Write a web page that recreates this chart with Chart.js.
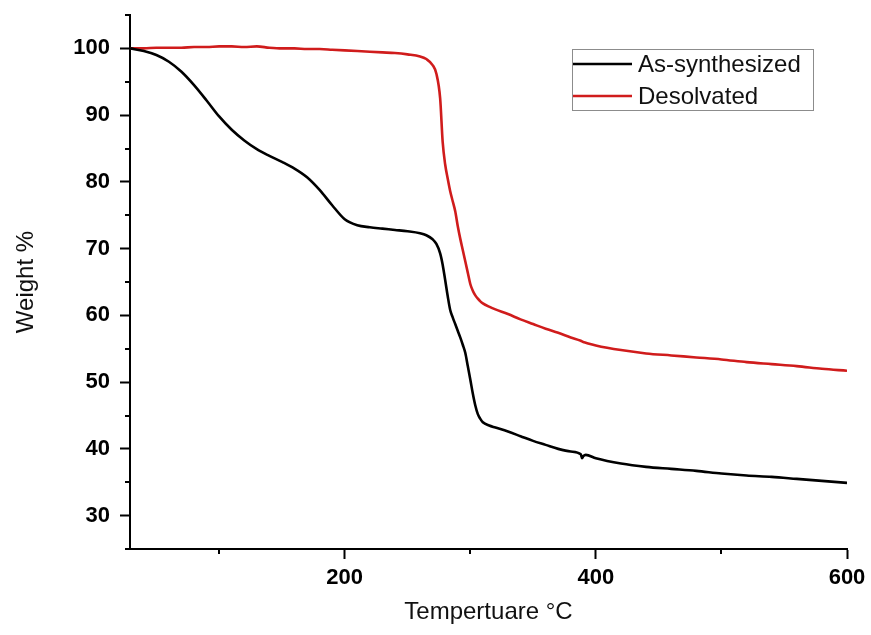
<!DOCTYPE html>
<html>
<head>
<meta charset="utf-8">
<title>TGA</title>
<script src="https://cdn.jsdelivr.net/npm/chart.js@4.4.1/dist/chart.umd.min.js"></script>
<style>
  html, body { margin: 0; padding: 0; background: #fff; }
</style>
</head>
<body>
<canvas id="tga" width="871" height="635"></canvas>
<script>
// temperature grid (°C) shared by both curves
const temps = [29, 40, 50, 60, 70, 80, 90, 100, 110, 120, 130, 140, 150, 160, 170, 180, 190, 200,
  210, 220, 230, 240, 250, 260, 265, 270, 273, 276, 278, 280, 282, 284, 286, 288, 290, 292, 294,
  296, 298, 300, 302, 304, 306, 308, 310, 315, 320, 330, 340, 350, 360, 370, 380, 388, 389, 390,
  392, 400, 420, 440, 460, 480, 500, 520, 540, 560, 580, 600];

// weight % of the as-synthesized sample
const asSynthesized = [100.0, 99.6, 99.0, 98.0, 96.5, 94.5, 92.2, 89.8, 87.8, 86.2, 84.9, 83.9, 83.0,
  82.0, 80.7, 78.8, 76.5, 74.4, 73.5, 73.2, 73.0, 72.8, 72.6, 72.3, 72.0, 71.4, 70.7, 69.3, 67.6,
  65.3, 62.9, 60.8, 59.7, 58.7, 57.7, 56.7, 55.6, 54.4, 52.4, 50.4, 48.3, 46.5, 45.2, 44.5, 44.0,
  43.5, 43.2, 42.6, 41.9, 41.2, 40.6, 40.0, 39.6, 39.2, 38.6, 38.9, 39.1, 38.6, 37.8, 37.3, 37.0,
  36.7, 36.3, 36.0, 35.8, 35.5, 35.2, 34.9];

// weight % of the desolvated sample
const desolvated = [100.0, 100.0, 100.1, 100.1, 100.1, 100.2, 100.2, 100.3, 100.3, 100.2, 100.3,
  100.1, 100.0, 100.0, 99.9, 99.9, 99.8, 99.7, 99.6, 99.5, 99.4, 99.3, 99.1, 98.8, 98.4, 97.5, 96.2,
  92.5, 86.0, 82.6, 80.5, 78.6, 77.1, 75.6, 73.4, 71.5, 69.8, 68.1, 66.4, 64.7, 63.7, 63.0, 62.5,
  62.1, 61.8, 61.3, 60.9, 60.2, 59.4, 58.7, 58.0, 57.4, 56.7, 56.2, 56.1, 56.0, 55.9, 55.5, 54.8,
  54.3, 54.0, 53.7, 53.4, 53.0, 52.7, 52.4, 52.0, 51.7];

const seriesNames = ['As-synthesized', 'Desolvated'];

// labelled ticks and the short unlabelled ones between them
const xTicks = [200, 400, 600];
const xMinorTicks = [100, 300, 500];
const yTicks = [30, 40, 50, 60, 70, 80, 90, 100];
const yMinorTicks = [25, 35, 45, 55, 65, 75, 85, 95, 105];

const FONT = '"Liberation Sans", Arial, sans-serif';
const RED = '#d01c1c';

function toPoints(ys) {
  return temps.map((t, i) => ({ x: t, y: ys[i] }));
}

// short minor ticks on both axes
const minorTicks = {
  id: 'minorTicks',
  afterDraw(chart) {
    const { ctx, scales: { x, y } } = chart;
    ctx.save();
    ctx.strokeStyle = '#000';
    ctx.lineWidth = 2;
    ctx.beginPath();
    yMinorTicks.forEach((v) => {
      const py = Math.round(y.getPixelForValue(v));
      ctx.moveTo(x.left - 5, py);
      ctx.lineTo(x.left, py);
    });
    xMinorTicks.forEach((v) => {
      const px = Math.round(x.getPixelForValue(v));
      ctx.moveTo(px, y.bottom);
      ctx.lineTo(px, y.bottom + 5);
    });
    ctx.stroke();
    ctx.restore();
  },
};

// boxed legend in the upper right of the plot
const boxLegend = {
  id: 'boxLegend',
  afterDraw(chart) {
    const { ctx, chartArea } = chart;
    const left = chartArea.right - 275;
    const top = chartArea.top + 34;
    const w = 241, h = 61;
    ctx.save();
    ctx.strokeStyle = '#8c8c8c';
    ctx.lineWidth = 1;
    ctx.strokeRect(left + 0.5, top + 0.5, w, h);
    ctx.font = '24px ' + FONT;
    ctx.textBaseline = 'middle';
    chart.data.datasets.forEach((ds, i) => {
      const cy = top + 15 + i * 32;
      ctx.strokeStyle = ds.borderColor;
      ctx.lineWidth = 2.5;
      ctx.beginPath();
      ctx.moveTo(left + 1, cy);
      ctx.lineTo(left + 60, cy);
      ctx.stroke();
      ctx.fillStyle = '#111';
      ctx.fillText(ds.label, left + 66, cy + 1);
    });
    ctx.restore();
  },
};

const ctx = document.getElementById('tga').getContext('2d');

const chart = new Chart(ctx, {
  type: 'line',
  data: {
    datasets: [
      {
        label: seriesNames[0],
        data: toPoints(asSynthesized),
        borderColor: '#000',
        borderWidth: 2.6,
      },
      {
        label: seriesNames[1],
        data: toPoints(desolvated),
        borderColor: RED,
        borderWidth: 2.6,
      },
    ],
  },
  options: {
    responsive: false,
    animation: false,
    layout: { padding: { left: 0, right: 24, top: 15, bottom: 8 } },
    elements: {
      point: { radius: 0 },
      line: { cubicInterpolationMode: 'monotone' },
    },
    plugins: {
      legend: { display: false },
      tooltip: { enabled: false },
    },
    scales: {
      x: {
        type: 'linear',
        min: 29,
        max: 600,
        afterBuildTicks: (scale) => {
          scale.ticks = xTicks.map((v) => ({ value: v }));
        },
        afterFit: (scale) => {
          scale.height = 78;
          scale.paddingLeft = 0;
          scale.paddingRight = 0;
        },
        border: { color: '#000', width: 2 },
        grid: {
          drawOnChartArea: false,
          drawTicks: true,
          tickLength: 10,
          tickColor: '#000',
          tickWidth: 2,
        },
        ticks: {
          padding: 6,
          color: '#000',
          maxRotation: 0,
          font: { family: FONT, size: 22, weight: 'bold' },
        },
        title: {
          display: true,
          text: 'Tempertuare °C',
          color: '#111',
          padding: { top: 0, bottom: 0 },
          font: { family: FONT, size: 24 },
        },
      },
      y: {
        min: 25,
        max: 105,
        afterBuildTicks: (scale) => {
          scale.ticks = yTicks.map((v) => ({ value: v }));
        },
        afterFit: (scale) => {
          scale.width = 130;
          scale.paddingTop = 0;
          scale.paddingBottom = 0;
        },
        border: { color: '#000', width: 2 },
        grid: {
          drawOnChartArea: false,
          drawTicks: true,
          tickLength: 10,
          tickColor: '#000',
          tickWidth: 2,
        },
        ticks: {
          padding: 10,
          color: '#000',
          font: { family: FONT, size: 22, weight: 'bold' },
        },
        title: {
          display: true,
          text: 'Weight %',
          color: '#111',
          padding: { top: 12, bottom: 0 },
          font: { family: FONT, size: 24 },
        },
      },
    },
  },
  plugins: [minorTicks, boxLegend],
});
</script>
</body>
</html>
